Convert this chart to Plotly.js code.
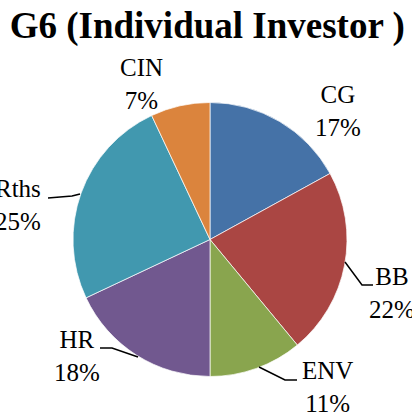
<!DOCTYPE html>
<html>
<head>
<meta charset="utf-8">
<script src="https://cdn.plot.ly/plotly-3.0.1.min.js"></script>
<style>html,body{margin:0;padding:0;background:#fff;}#chart{width:412px;height:418px;}</style>
</head>
<body>
<div id="chart"></div>
<script>
// Data
var categories = ["CG", "BB", "ENV", "HR", "Rths", "CIN"];
var percentValues = [17, 22, 11, 18, 25, 7];
var sliceColors = ["#4572A7", "#AA4643", "#89A54E", "#71588F", "#4198AF", "#DB843D"];
var chartTitle = "G6 (Individual Investor )";

var W = 412, H = 418;
function px(x) { return x / W; }
function py(y) { return 1 - y / H; }

// label placement (pixel centres) and leader lines
var labelCentres = {
  CG: [338, 111], BB: [392, 293], ENV: [327, 387],
  HR: [77, 356], Rths: [18, 205], CIN: [141, 84]
};
var leaders = {
  BB: [[345, 262], [362, 285], [373, 285]],
  ENV: [[259, 367], [285, 380], [297, 380]],
  HR: [[138, 357], [112, 348], [100, 348]],
  Rths: [[80, 194], [72, 196], [48, 198]]
};

var fontFam = "'Liberation Serif', 'Times New Roman', Times, serif";

var annotations = categories.map(function (c, i) {
  var p = labelCentres[c];
  return {
    xref: 'paper', yref: 'paper', x: px(p[0]), y: py(p[1]),
    xanchor: 'center', yanchor: 'middle', showarrow: false,
    text: c + '<br>' + percentValues[i] + '%', align: 'center',
    font: {family: fontFam, size: 25, color: '#000'}
  };
});

var shapes = Object.keys(leaders).map(function (k) {
  var pts = leaders[k];
  var d = pts.map(function (p, j) { return (j ? 'L' : 'M') + px(p[0]) + ',' + py(p[1]); }).join(' ');
  return {type: 'path', xref: 'paper', yref: 'paper', path: d, line: {color: '#000', width: 1.5}};
});

var trace = {
  type: 'pie',
  labels: categories,
  values: percentValues,
  marker: {colors: sliceColors, line: {color: 'rgba(255,255,255,0.7)', width: 1}},
  sort: false,
  direction: 'clockwise',
  rotation: 0,
  textinfo: 'none',
  hoverinfo: 'label+percent',
  showlegend: false,
  domain: {x: [px(73), px(347)], y: [py(376.5), py(102.5)]}
};

var layout = {
  width: W, height: H,
  margin: {l: 0, r: 0, t: 0, b: 0},
  paper_bgcolor: '#fff',
  showlegend: false,
  font: {family: fontFam},
  title: {
    text: '<b>' + chartTitle + '</b>',
    x: 0.503, xanchor: 'center', xref: 'paper',
    y: py(25), yanchor: 'middle', yref: 'container',
    font: {family: fontFam, size: 37, color: '#000'}
  },
  annotations: annotations,
  shapes: shapes
};

Plotly.newPlot('chart', [trace], layout, {displayModeBar: false, staticPlot: true});
</script>
</body>
</html>
